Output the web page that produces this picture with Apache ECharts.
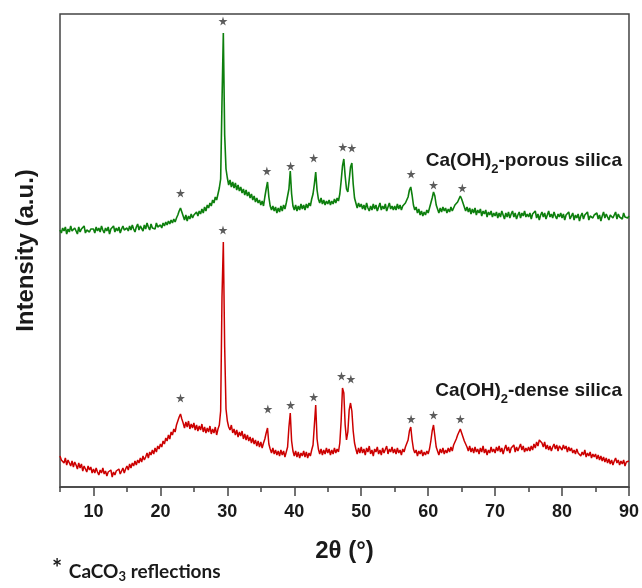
<!DOCTYPE html>
<html>
<head>
<meta charset="utf-8">
<script src="https://cdn.jsdelivr.net/npm/echarts@6/dist/echarts.min.js"></script>
<style>
  html, body { margin: 0; padding: 0; background: #fff; }
  #chart { width: 642px; height: 588px; }
</style>
</head>
<body>
<div id="chart"></div>
<script>
  // XRD scans, 2theta from 5 to 90 in 0.2 deg steps, intensity in a.u.
  var thetaStart = 5
  var thetaStep = 0.2

  var porousCounts = [
    257,254,259,256,260, 253,258,255,261,256, 254,259,257,253,260, 255,258,256,261,254, 257,259,255,258,256,
    258,254,260,256,259, 255,261,257,254,259, 256,260,253,258,257, 261,255,259,256,260, 254,258,261,257,259,
    259,256,261,257,262, 258,255,260,263,257, 261,259,256,262,258, 264,260,257,263,259, 261,258,264,260,262,
    262,259,264,261,265, 262,266,263,267,264, 268,265,269,272,276, 279,275,271,267,272, 266,271,268,273,269,
    272,270,275,271,276, 273,278,274,280,276, 282,279,284,281,287, 284,290,287,293,299, 308,385,454,352,318,
    309,302,307,300,305, 299,304,297,302,296, 300,294,298,292,297, 291,295,289,293,287, 291,285,289,284,287,
    282,286,281,290,298, 305,290,281,277,281, 276,280,274,279,275, 281,276,282,278,284, 283,298,316,293,281,
    277,282,276,281,277, 283,278,282,277,283, 279,284,281,288,293, 303,315,297,288,284, 289,283,287,282,286,
    283,287,282,286,283, 288,284,289,286,293, 306,321,328,311,298, 295,307,320,324,303, 289,284,279,284,280,
    283,278,282,277,284, 279,276,281,277,283, 278,282,276,280,284, 277,281,278,283,276, 280,284,278,281,277,
    281,277,283,278,282, 277,281,279,284,286, 290,297,300,292,282, 277,280,274,278,272, 276,271,275,272,277,
    274,279,284,289,295, 291,282,278,274,279, 275,280,276,279,274, 278,275,280,276,279, 282,280,285,287,291,
    288,284,280,276,280, 275,279,273,278,274, 279,272,277,274,278, 271,276,273,277,270, 275,272,276,270,274,
    271,275,269,274,270, 276,272,268,274,270, 275,269,273,276,270, 274,268,272,275,269, 274,271,276,270,273,
    270,274,268,273,271, 276,269,273,267,272, 275,270,274,268,272, 276,270,273,269,275, 271,268,273,270,274,
    269,273,267,272,270, 275,268,271,274,267, 272,269,273,266,271, 274,268,272,270,275, 267,271,273,269,272,
    270,274,268,272,266, 271,275,269,273,270, 267,272,274,269,271, 275,268,273,270,272, 268,274,270,272,269,
    271
  ]

  var denseCounts = [
    31,27,29,24,29, 22,27,24,21,26, 20,25,22,18,24, 19,23,16,21,18, 15,21,17,20,14,
    18,14,19,15,12, 17,14,19,13,16, 11,15,13,17,10, 15,12,16,14,18, 13,16,19,14,18,
    21,17,23,19,24, 21,26,22,27,24, 29,25,31,27,30, 34,29,35,32,37, 33,39,35,41,38,
    43,40,46,43,49, 46,52,48,55,52, 58,55,62,66,70, 73,68,64,59,65, 60,66,58,63,59,
    64,57,62,56,61, 57,63,55,60,54, 59,55,61,53,58, 54,60,52,58,62, 76,190,245,140,78,
    66,60,57,62,54, 58,52,57,50,55, 51,56,48,53,47, 52,46,50,44,49, 43,47,41,46,40,
    45,39,44,48,54, 59,43,38,34,39, 33,37,32,36,31, 37,32,36,30,35, 40,60,74,46,36,
    31,36,30,35,29, 34,31,36,30,35, 29,34,31,37,42, 62,82,48,38,33, 38,32,37,33,39,
    34,38,32,37,33, 39,34,38,35,44, 66,99,94,62,47, 55,77,84,76,56, 44,38,33,39,34,
    40,34,38,32,39, 35,41,33,37,31, 38,35,40,33,37, 32,39,34,36,41, 33,38,35,40,34,
    38,33,39,34,37, 32,38,35,40,42, 47,56,60,47,38, 34,37,31,36,33, 37,31,35,32,36,
    33,38,46,56,62, 51,40,36,32,38, 34,39,33,37,34, 39,35,40,36,42, 45,48,52,55,58,
    54,50,46,43,40, 36,41,35,39,34, 40,35,38,33,39, 35,41,34,38,32, 37,34,40,35,38,
    34,40,36,41,35, 39,33,38,42,36, 40,34,39,37,42, 35,40,36,38,43, 37,41,35,39,36,
    40,36,41,37,43, 39,45,41,47,49, 44,40,45,38,42, 37,41,36,40,43, 38,42,36,41,39,
    37,42,38,41,35, 40,36,39,34,37, 33,38,34,36,31, 35,32,37,30,34, 31,35,29,33,30,
    33,28,32,27,31, 26,30,25,29,24, 28,23,27,22,26, 29,24,27,22,26, 23,27,21,25,24,
    26
  ]

  // CaCO3 reflection markers (*)
  var porousStarTheta = [23.0, 29.35, 35.9, 39.45, 42.9, 47.25, 48.6, 57.45, 60.8, 65.1]
  var porousStarCounts = [294, 466, 316, 321, 329, 340, 339, 313, 302, 299]
  var denseStarTheta = [23.0, 29.35, 36.05, 39.45, 42.9, 47.05, 48.45, 57.45, 60.8, 64.8]
  var denseStarCounts = [89, 257, 78, 82, 90, 111, 108, 68, 72, 68]

  var tickLabels = [10, 20, 30, 40, 50, 60, 70, 80, 90]
  var minorTicks = [5, 15, 25, 35, 45, 55, 65, 75, 85]

  var starPath = 'path://M50,0 L61,35 L98,35 L68,57 L79,91 L50,70 L21,91 L32,57 L2,35 L39,35 Z'
  var arial = 'Liberation Sans, Arial, sans-serif'

  function pairs (xs, ys) {
    var out = []
    for (var i = 0; i < ys.length; i++) {
      out.push([xs[i], ys[i]])
    }
    return out
  }

  var twoTheta = []
  for (var i = 0; i < porousCounts.length; i++) {
    twoTheta.push(+(thetaStart + i * thetaStep).toFixed(1))
  }

  var chart = echarts.init(document.getElementById('chart'))
  var option = {
    animation: false,
    grid: {
      left: 60, right: 12, top: 14, bottom: 101,
      show: true,
      borderColor: '#444',
      borderWidth: 1.5
    },
    xAxis: [
      {
        type: 'value',
        min: 5, max: 90, interval: 5,
        name: '2θ (°)',
        nameLocation: 'middle',
        nameGap: 52,
        nameTextStyle: { fontFamily: arial, fontSize: 24, fontWeight: 'bold', color: '#1a1a1a' },
        axisLine: { show: true, lineStyle: { color: '#444', width: 1.5 } },
        axisTick: { show: true, inside: false, length: 9, customValues: tickLabels, lineStyle: { color: '#444', width: 1.5 } },
        axisLabel: { customValues: tickLabels, margin: 16, fontFamily: arial, fontSize: 18, fontWeight: 'bold', color: '#1a1a1a' },
        splitLine: { show: false }
      },
      {
        type: 'value',
        position: 'bottom',
        min: 5, max: 90, interval: 5,
        axisLine: { show: false },
        axisTick: { show: true, inside: false, length: 5, customValues: minorTicks, lineStyle: { color: '#444', width: 1.5 } },
        axisLabel: { show: false },
        splitLine: { show: false }
      }
    ],
    yAxis: {
      type: 'value',
      min: 0, max: 473,
      name: 'Intensity (a.u.)',
      nameLocation: 'middle',
      nameRotate: 90,
      nameGap: 22,
      nameTextStyle: { fontFamily: arial, fontSize: 24, fontWeight: 'bold', color: '#1a1a1a' },
      axisLine: { show: false },
      axisTick: { show: false },
      axisLabel: { show: false },
      splitLine: { show: false }
    },
    series: [
      {
        name: 'Ca(OH)2-porous silica',
        type: 'line',
        showSymbol: false,
        symbol: 'none',
        data: pairs(twoTheta, porousCounts),
        lineStyle: { color: '#0d7f0d', width: 1.6 }
      },
      {
        name: 'Ca(OH)2-dense silica',
        type: 'line',
        showSymbol: false,
        symbol: 'none',
        data: pairs(twoTheta, denseCounts),
        lineStyle: { color: '#cc0000', width: 1.5 }
      },
      {
        type: 'scatter',
        symbol: starPath,
        symbolSize: 9,
        itemStyle: { color: '#333' },
        data: pairs(porousStarTheta, porousStarCounts).concat(pairs(denseStarTheta, denseStarCounts)),
        z: 5
      }
    ],
    graphic: [
      {
        type: 'text', x: 622, y: 161,
        style: {
          text: '{a|Ca(OH)}{s|2}{a|-porous silica}',
          align: 'right', verticalAlign: 'middle',
          rich: {
            a: { fontFamily: arial, fontSize: 19, fontWeight: 'bold', fill: '#1a1a1a' },
            s: { fontFamily: arial, fontSize: 13, fontWeight: 'bold', fill: '#1a1a1a', padding: [16, 0, 0, 0] }
          }
        }
      },
      {
        type: 'text', x: 622, y: 391,
        style: {
          text: '{a|Ca(OH)}{s|2}{a|-dense silica}',
          align: 'right', verticalAlign: 'middle',
          rich: {
            a: { fontFamily: arial, fontSize: 19, fontWeight: 'bold', fill: '#1a1a1a' },
            s: { fontFamily: arial, fontSize: 13, fontWeight: 'bold', fill: '#1a1a1a', padding: [16, 0, 0, 0] }
          }
        }
      },
      {
        type: 'text', x: 52, y: 572,
        style: {
          text: '{st|*}{a| CaCO}{s|3}{a| reflections}',
          align: 'left', verticalAlign: 'middle',
          rich: {
            st: { fontFamily: 'Lato', fontSize: 24, fontWeight: 'bold', fill: '#1a1a1a', padding: [0, 2, 6, 0] },
            a: { fontFamily: 'Lato', fontSize: 19, fontWeight: 'bold', fill: '#1a1a1a' },
            s: { fontFamily: 'Lato', fontSize: 13, fontWeight: 'bold', fill: '#1a1a1a', padding: [10, 0, 0, 0] }
          }
        }
      }
    ]
  }
  chart.setOption(option)
  window.addEventListener('resize', function () {
    chart.resize()
  })
</script>
</body>
</html>
